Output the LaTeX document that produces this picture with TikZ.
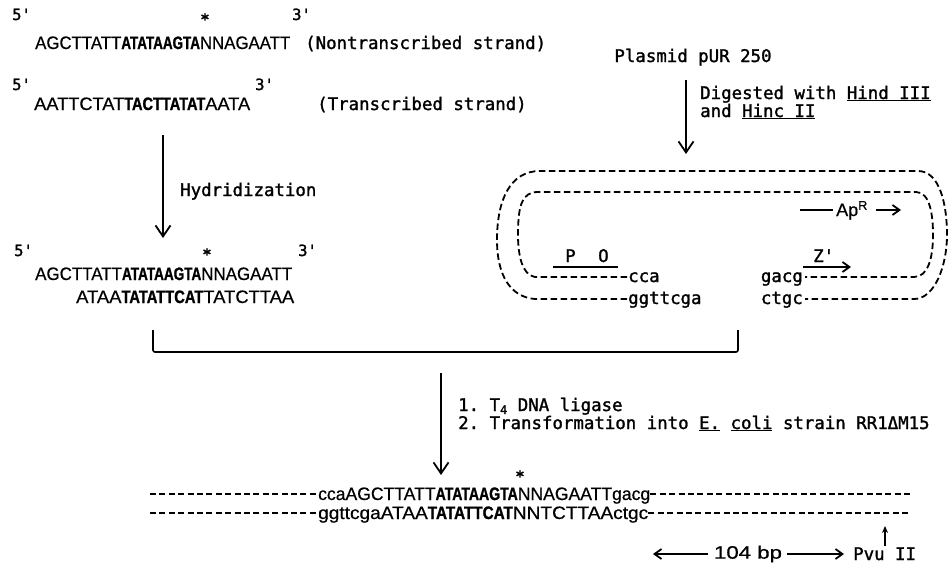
\documentclass[tikz,border=0pt]{standalone}
\usepackage{fontspec}
\usepackage{graphicx}
\setmonofont{DejaVu Sans Mono}[FakeBold=1.5]
\newfontfamily\sqfont{Liberation Sans}[FakeBold=0.5]
\newfontfamily\sqbold{Liberation Sans}[UprightFont={Liberation Sans Bold}, FakeStretch=0.8, FakeBold=1.2]
\usetikzlibrary{arrows.meta}
\newcommand\seqtxt[4]{\resizebox{#1pt}{\height}{\sqfont #2{\sqbold #3}#4}}
\tikzset{
  lab/.style={font=\ttfamily\fontsize{17.4}{21}\selectfont, inner sep=0pt, anchor=base west},
  prime/.style={font=\ttfamily\fontsize{15.5}{18}\selectfont, inner sep=0pt, anchor=base west},
  seq/.style={font=\fontsize{18}{20}\selectfont, inner sep=0pt, anchor=base west},
  sans/.style={font=\sqfont\fontsize{18}{20}\selectfont, inner sep=0pt},
  star/.style={font=\ttfamily\bfseries\fontsize{15}{18}\selectfont, inner sep=0pt},
  arr/.style={line width=1.8pt, -{Straight Barb[length=11pt,width=15pt,line width=1.8pt]}},
  sarr/.style={line width=1.8pt, -{Straight Barb[length=7pt,width=10pt,line width=1.8pt]}},
  dsh/.style={line width=1.8pt, dash pattern=on 6.5pt off 3.5pt},
}
\begin{document}
\begin{tikzpicture}[x=1pt,y=-1pt]
\useasboundingbox[fill=white] (0,0) rectangle (949,563);

% ---- top-left: strands
\node[prime] (p5a) at (12,20) {5'};
\node[star] (s1) at (205,19) {*};
\node[prime] (p3a) at (292,20) {3'};
\node[seq] (nts) at (35,49) {\seqtxt{255}{AGCTTATT}{ATATAAGTA}{NNAGAATT}};
\node[lab] (ntl) at (305,49) {(Nontranscribed strand)};

\node[prime] (p5b) at (12,90) {5'};
\node[prime] (p3b) at (255,90) {3'};
\node[seq] (ts) at (34,110) {\seqtxt{216}{AATTCTAT}{TACTTATAT}{AATA}};
\node[lab] (tl) at (317,110) {(Transcribed strand)};

\coordinate (h1) at (163,135);
\coordinate (h2) at (163,238);
\draw[arr] (h1) -- (h2);
\node[lab] (hyd) at (180,196) {Hydridization};

\node[prime] (p5c) at (14,256) {5'};
\node[star] (s2) at (207,254) {*};
\node[prime] (p3c) at (298,256) {3'};
\node[seq] (hy1) at (35,280) {\seqtxt{257}{AGCTTATT}{ATATAAGTA}{NNAGAATT}};
\node[seq] (hy2) at (76,303) {\seqtxt{218}{ATAA}{TATATTCAT}{TATCTTAA}};

% ---- right: plasmid
\node[lab, anchor=base] (pl) at (693,62) {Plasmid pUR 250};
\coordinate (d1) at (686,80);
\coordinate (d2) at (686,154);
\draw[arr] (d1) -- (d2);
\node[lab] (dg1) at (700,99) {Digested with \underline{Hind III}};
\node[lab] (dg2) at (700,117) {and \underline{Hinc II}};

\draw[dsh] (627,277) -- (535,277)
  .. controls (522,275) and (518,255) .. (518,235)
  .. controls (518,205) and (522,192) .. (538,192) -- (916,192)
  .. controls (930,192) and (933,215) .. (933,235)
  .. controls (933,258) and (928,277) .. (914,277) -- (805,277);
\draw[dsh] (627,299) -- (535,299)
  .. controls (510,297) and (497,275) .. (497,240)
  .. controls (497,200) and (510,171) .. (540,171) -- (918,171)
  .. controls (940,171) and (947,205) .. (947,235)
  .. controls (947,265) and (935,299) .. (914,299) -- (805,299);

\node[lab] (cca) at (628,282) {cca};
\node[lab] (ggt) at (628,304) {ggttcga};
\node[lab, anchor=base east] (gac) at (803,282) {gacg};
\node[lab, anchor=base east] (ctg) at (803,304) {ctgc};

\node[lab] (P) at (565,262) {P};
\node[lab] (O) at (598,262) {O};
\coordinate (u1) at (553,267);
\coordinate (u2) at (618,267);
\draw[line width=1.6pt] (u1) -- (u2);

\node[lab] (Z) at (813,262) {Z'};
\coordinate (z1) at (803,267);
\coordinate (z2) at (851,267);
\draw[sarr, line width=2.4pt] (z1) -- (z2);

\node[sans, anchor=base west] (Ap) at (836,216) {Ap\textsuperscript{R}};
\coordinate (a1) at (800,210);
\coordinate (a2) at (833,210);
\coordinate (a3) at (876,210);
\coordinate (a4) at (901,210);
\draw[line width=1.6pt] (a1) -- (a2);
\draw[sarr] (a3) -- (a4);

% ---- bracket
\coordinate (bl) at (153,330);
\coordinate (br) at (738,330);
\draw[line width=1.6pt, rounded corners=2pt] (bl) -- (153,352) -- (738,352) -- (br);

% ---- ligation
\coordinate (l1) at (441,373);
\coordinate (l2) at (441,475);
\draw[arr] (l1) -- (l2);
\node[lab] (st1) at (458,411) {1. T\raisebox{-3pt}{\fontsize{12}{12}\selectfont 4} DNA ligase};
\node[lab] (st2) at (458,429) {2. Transformation into \underline{E.} \underline{coli} strain RR1ΔM15};

% ---- product
\node[star] (s3) at (520,476) {*};
\node[seq] (pr1) at (318,500) {\seqtxt{332}{ccaAGCTTATT}{ATATAAGTA}{NNAGAATTgacg}};
\node[seq] (pr2) at (318,519) {\seqtxt{330}{ggttcgaATAA}{TATATTCAT}{NNTCTTAActgc}};
\draw[dsh, line width=1.6pt, dash pattern=on 6pt off 3.4pt] (150,494) -- (pr1.west |- 0,494);
\draw[dsh, line width=1.6pt, dash pattern=on 6pt off 3.4pt] (pr1.east |- 0,494) -- (910,494);
\draw[dsh, line width=1.6pt, dash pattern=on 6pt off 3.4pt] (150,513) -- (pr2.west |- 0,513);
\draw[dsh, line width=1.6pt, dash pattern=on 6pt off 3.4pt] (pr2.east |- 0,513) -- (910,513);

\coordinate (pv1) at (885,546);
\coordinate (pv2) at (885,526);
\draw[line width=1.4pt, -{Stealth[length=7pt,width=6pt]}] (pv1) -- (pv2);

\node[sans] (bp) at (748,554) {\resizebox{68pt}{\height}{104 bp}};
\node[lab] (pvu) at (853,560) {Pvu II};
\coordinate (bpl) at (653,554);
\coordinate (bpr) at (844,554);
\draw[sarr] (bp.west) ++(-6,0) -- (bpl);
\draw[sarr] (bp.east) ++(5,0) -- (bpr);
\end{tikzpicture}
\end{document}
